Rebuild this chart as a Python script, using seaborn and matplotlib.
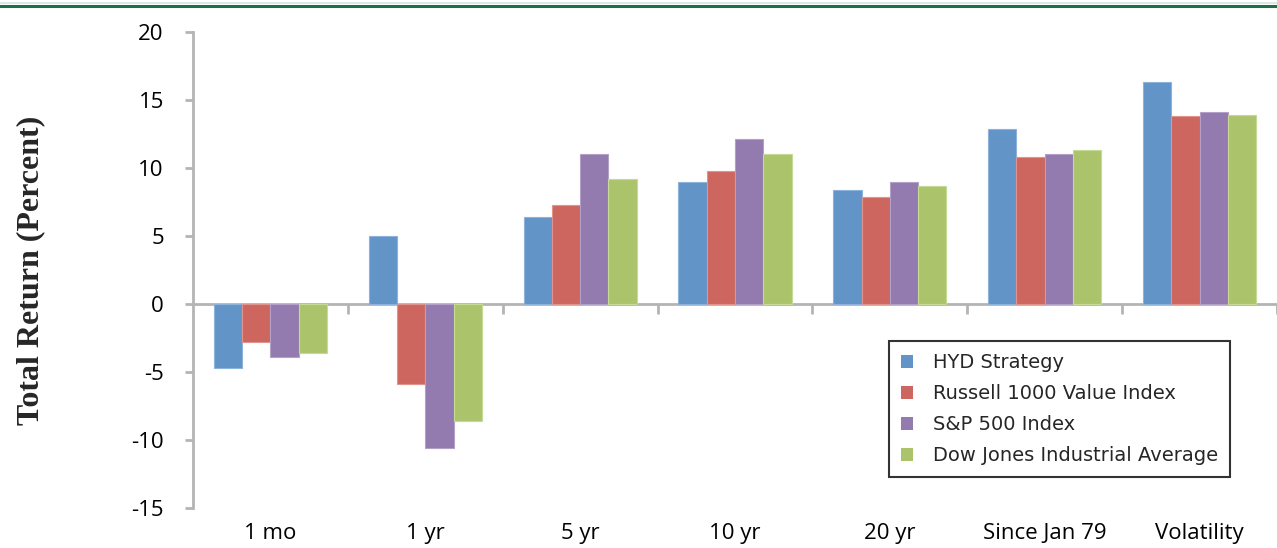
import matplotlib
matplotlib.use("Agg")
import matplotlib.pyplot as plt
from matplotlib.lines import Line2D
import seaborn as sns
import pandas as pd
import numpy as np

# Data
periods = ["1 mo", "1 yr", "5 yr", "10 yr", "20 yr", "Since Jan 79", "Volatility"]
series_names = ["HYD Strategy", "Russell 1000 Value Index", "S&P 500 Index",
                "Dow Jones Industrial Average"]
hyd = [-4.7, 5.0, 6.4, 9.0, 8.4, 12.9, 16.3]
russell = [-2.8, -5.9, 7.3, 9.8, 7.9, 10.8, 13.8]
sp500 = [-3.9, -10.6, 11.0, 12.1, 9.0, 11.0, 14.1]
dow = [-3.6, -8.6, 9.2, 11.0, 8.7, 11.3, 13.9]
y_ticks = [-15, -10, -5, 0, 5, 10, 15, 20]

colors = ["#6294C8", "#CD665E", "#937AAF", "#ABC46C"]
edge_colors = ["#8DB3DC", "#E0948E", "#B3A0C9", "#C6D995"]

df = pd.DataFrame({
    "period": periods * 4,
    "series": np.repeat(series_names, len(periods)),
    "value": hyd + russell + sp500 + dow,
})

sns.set_style("white")
plt.rcParams["font.family"] = ["Open Sans", "DejaVu Sans"]

fig = plt.figure(figsize=(12.77, 5.48), dpi=100)
ax = fig.add_axes([193 / 1277, 40 / 548, 1084 / 1277, 476 / 548])

sns.barplot(data=df, x="period", y="value", hue="series", order=periods,
            hue_order=series_names, palette=colors, width=0.73, gap=0,
            saturation=1, ax=ax, legend=True)

# light bar outlines
for cont, ec in zip(ax.containers, edge_colors):
    for patch in cont:
        patch.set_edgecolor(ec)
        patch.set_linewidth(0.8)

axis_gray = "#B4B4B4"
ax.set_xlim(-0.5, len(periods) - 0.5)
ax.set_ylim(y_ticks[0], y_ticks[-1])
ax.set_yticks(y_ticks)
ax.set_yticklabels([str(t) for t in y_ticks])

for side in ["top", "right", "bottom"]:
    ax.spines[side].set_visible(False)
ax.spines["left"].set_color(axis_gray)
ax.spines["left"].set_linewidth(2)

ax.tick_params(axis="y", direction="out", length=6, width=2, color=axis_gray,
               labelsize=16, pad=15, labelcolor="black", left=True)
ax.tick_params(axis="x", length=0, labelsize=16, pad=11, labelcolor="black")
ax.set_xlabel("")
ax.set_ylabel("Total Return (Percent)", fontsize=23, fontweight="bold",
              family="Liberation Serif", labelpad=62)

# category axis drawn through zero with ticks between groups
zero_frac = (0 - y_ticks[0]) / (y_ticks[-1] - y_ticks[0])
sec = ax.secondary_xaxis(zero_frac)
sec.spines["bottom"].set_color(axis_gray)
sec.spines["bottom"].set_linewidth(2)
sec.set_xticks(np.arange(len(periods)) + 0.5)
sec.tick_params(axis="x", direction="out", length=7, width=2, color=axis_gray,
                labelbottom=False)

leg = ax.legend(loc="upper left", bbox_to_anchor=(696 / 1084, (508 - 341) / 476),
                frameon=True, fancybox=False, edgecolor="black",
                prop={"family": "DejaVu Sans", "size": 14},
                handlelength=0.62, handleheight=0.62, handletextpad=1.0,
                labelspacing=0.62, borderpad=0.62, borderaxespad=0)
leg.get_frame().set_linewidth(1.5)
for h in leg.legend_handles:
    h.set_edgecolor("none")

# rule across the top of the figure
fig.add_artist(Line2D([0, 1], [1 - 6 / 548, 1 - 6 / 548], color="#1E6E4A",
                      linewidth=2.2, transform=fig.transFigure))
fig.add_artist(Line2D([0, 1], [1 - 3 / 548, 1 - 3 / 548], color="#D6E6DE",
                      linewidth=1.2, transform=fig.transFigure))

fig.savefig("out.png", dpi=100)
